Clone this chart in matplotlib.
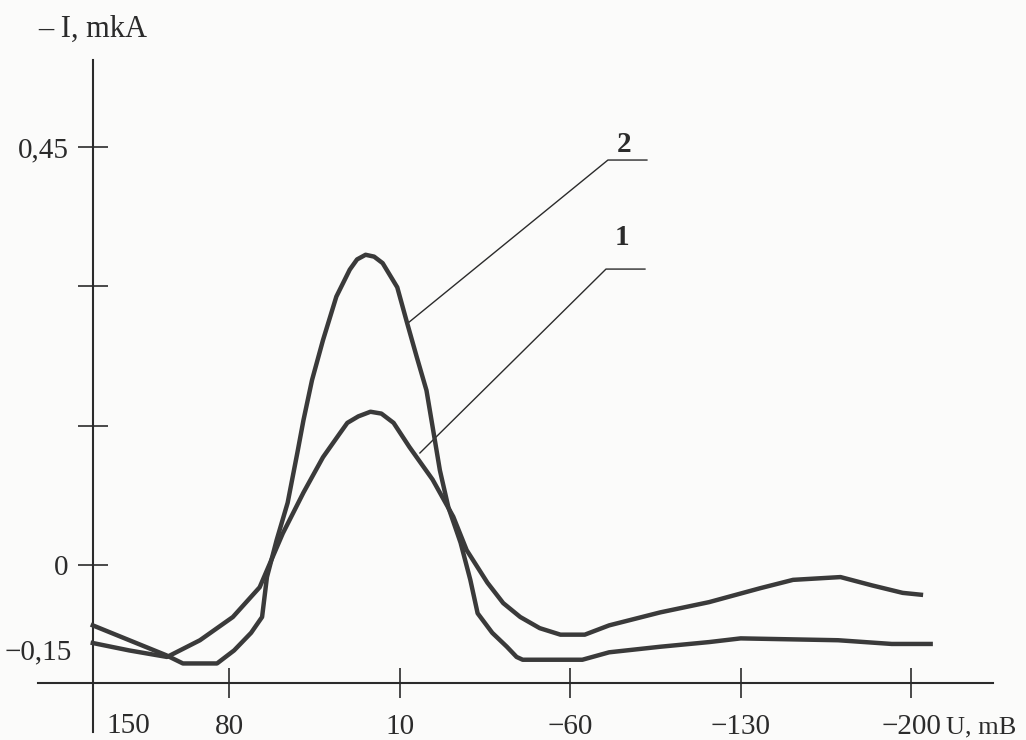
import matplotlib
matplotlib.use("Agg")
import matplotlib.pyplot as plt

# ---- data (U in mV, I in mkA) ----
U2 = [136, 121, 106, 99, 85, 78, 71, 66.5, 64.5, 60.5, 56, 52, 49.5, 46, 41.5, 36, 30.5, 27.5,
      24, 20.5, 17, 11, 7, 3, -1, -3.5, -6.5, -10, -15, -19, -22, -28, -34, -38, -40.5, -65,
      -76, -97, -117, -130, -170, -192, -208]
I2 = [-0.065, -0.081, -0.097, -0.106, -0.106, -0.092, -0.073, -0.056, -0.013, 0.027, 0.067,
      0.121, 0.156, 0.199, 0.242, 0.289, 0.318, 0.329, 0.334, 0.332, 0.325, 0.299, 0.261,
      0.224, 0.188, 0.149, 0.102, 0.062, 0.024, -0.016, -0.052, -0.073, -0.088, -0.099,
      -0.102, -0.102, -0.094, -0.088, -0.083, -0.079, -0.081, -0.085, -0.085]

U1 = [136, 121, 105.5, 92, 78.5, 67.5, 58, 49.5, 41.5, 34.5, 31.5, 27, 22, 17.5, 12.5, 6,
      -3.5, -12, -17.5, -26, -32.5, -39.5, -47.5, -56, -66, -76, -97, -117, -138, -151.5,
      -171, -184, -196.5, -204]
I1 = [-0.084, -0.092, -0.099, -0.081, -0.056, -0.024, 0.034, 0.078, 0.116, 0.142, 0.153,
      0.160, 0.165, 0.163, 0.153, 0.127, 0.092, 0.052, 0.016, -0.019, -0.041, -0.056,
      -0.068, -0.075, -0.075, -0.065, -0.051, -0.040, -0.025, -0.016, -0.013, -0.022,
      -0.030, -0.032]

x_ticks = [80, 10, -60, -130, -200]
x_tick_labels = ["80", "10", "\u221260", "\u2212130", "\u2212200"]
y_ticks = [0, 0.15, 0.30, 0.45]
y_tick_labels = ["0", "", "", "0,45"]

# leader lines for curve labels
lead2_U = [6.6, -75.5, -91.5]
lead2_I = [0.2605, 0.436, 0.436]
lead1_U = [1.7, -74.7, -90.7]
lead1_I = [0.1206, 0.3186, 0.3186]

FONT = "Liberation Serif"
FS = 21
INK = "#2b2b2b"
CURVE = "#3a3a3a"

fig = plt.figure(figsize=(10.26, 7.4), dpi=100)
fig.patch.set_facecolor("#fbfbfa")
ax = fig.add_axes([38 / 1026, 1 - 732 / 740, (993 - 38) / 1026, (732 - 60) / 740])
ax.set_facecolor("none")

ax.set_xlim(158.5, -233.6)
ax.set_ylim(-0.1798, 0.5437)

ax.plot(U2, I2, color=CURVE, lw=3.2, solid_joinstyle="round", zorder=3)
ax.plot(U1, I1, color=CURVE, lw=3.2, solid_joinstyle="round", zorder=3)

ax.plot(lead2_U, lead2_I, color=INK, lw=1.0, zorder=2)
ax.plot(lead1_U, lead1_I, color=INK, lw=1.0, zorder=2)
ax.text(-82.1, 0.4525, "2", fontfamily=FONT, fontsize=FS, fontweight="bold",
        ha="center", va="center", color=INK)
ax.text(-81.3, 0.3531, "1", fontfamily=FONT, fontsize=FS, fontweight="bold",
        ha="center", va="center", color=INK)

# axes
for s in ["top", "right"]:
    ax.spines[s].set_visible(False)
ax.spines["left"].set_position(("data", 135.9))
ax.spines["bottom"].set_position(("data", -0.127))
for s in ["left", "bottom"]:
    ax.spines[s].set_linewidth(1.5)
    ax.spines[s].set_color(INK)

ax.set_xticks(x_ticks, labels=x_tick_labels)
ax.set_yticks(y_ticks, labels=y_tick_labels)
ax.tick_params(axis="both", direction="inout", length=21, width=1.2, color=INK,
               labelsize=FS, labelcolor=INK)
ax.tick_params(axis="x", pad=12)
ax.tick_params(axis="y", pad=7)
for lab in ax.get_xticklabels() + ax.get_yticklabels():
    lab.set_fontfamily(FONT)

# extra labels
ax.text(121.5, -0.1735, "150", fontfamily=FONT, fontsize=FS, ha="center", va="center", color=INK)
ax.text(144.5, -0.0937, "\u22120,15", fontfamily=FONT, fontsize=FS, ha="right", va="center", color=INK)
ax.text(-214.5, -0.1745, "U, mB", fontfamily=FONT, fontsize=19, ha="left", va="center", color=INK)
fig.text(38 / 1026, 1 - 29 / 740, "\u2013 I, mkA", fontfamily=FONT, fontsize=22,
         ha="left", va="center", color=INK)

fig.savefig("out.png", dpi=100, facecolor=fig.get_facecolor())
